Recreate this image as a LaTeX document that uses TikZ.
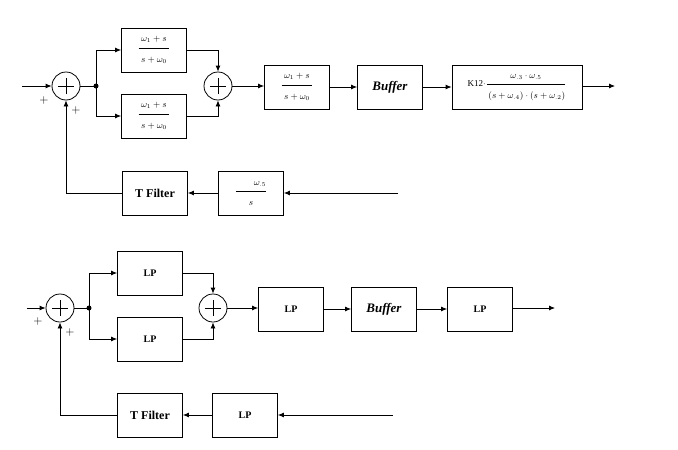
\documentclass[tikz,border=0pt]{standalone}
\usepackage{amsmath}
\usepackage{fontspec}
\setmainfont{Liberation Serif}
\usetikzlibrary{arrows.meta}
\newcommand{\gainfrac}[2]{\displaystyle\frac{\rule[-5pt]{0pt}{10pt}#1}{\rule{0pt}{13pt}#2}}
\tikzset{
  blk/.style={draw, thick, minimum width=65pt, minimum height=44pt, inner sep=1pt},
  sumnode/.style={draw, circle, minimum size=28pt, inner sep=0pt,
    path picture={\draw ([xshift=-8pt]path picture bounding box.center) -- ([xshift=8pt]path picture bounding box.center);
      \draw ([yshift=-8pt]path picture bounding box.center) -- ([yshift=8pt]path picture bounding box.center);}},
  arr/.style={-{Latex[length=6pt,width=5pt]}},
  sgn/.style={inner sep=0pt, font=\large}
}
\begin{document}
\begin{tikzpicture}[x=1pt, y=-1pt, line width=0.8pt]
	\useasboundingbox (0,0) rectangle (678,450);
	
	% Upper loop
	\coordinate (in1) at (22,86);
	\node[sumnode] (s1) at (66,86) {};
	\coordinate (j1) at (96,86);
	\node[blk] (bA) at (154,50) {\small$\gainfrac{\;\omega_1+s\;}{s+\omega_0}$};
	\node[blk] (bB) at (154,116) {\small$\gainfrac{\;\omega_1+s\;}{s+\omega_0}$};
	\node[sumnode] (s2) at (218,86) {};
	\node[blk] (b3) at (297,87) {\small$\gainfrac{\;\omega_1+s\;}{s+\omega_0}$};
	\node[blk] (buf1) at (390,87) {\fontsize{13}{15}\selectfont\textbf{\textit{Buffer}}};
	\node[blk, minimum width=130pt] (k12) at (517,87) {\small K12$\cdot\gainfrac{\omega_{.3}\cdot\omega_{.5}}{\left(s+\omega_{.4}\right)\cdot\left(s+\omega_{.2}\right)}$};
	\coordinate (out1) at (615,86);
	\node[blk] (tf1) at (155,193) {\fontsize{12}{14}\selectfont\textbf{T Filter}};
	\node[blk] (w5) at (251,193) {\small$\gainfrac{\qquad\omega_{.5}}{s}$};
	\coordinate (fin1) at (398,193);
	\node[sgn] (p1) at (44,100) {$+$};
	\node[sgn] (p2) at (76,110) {$+$};
	
	\draw[arr] (in1) -- (s1);
	\draw (s1) -- (j1);
	\fill (j1) circle (2.5pt);
	\draw[arr] (j1) |- (bA);
	\draw[arr] (j1) |- (bB);
	\draw[arr] (bA) -| (s2);
	\draw[arr] (bB) -| (s2);
	\draw[arr] (s2) -- (s2 -| b3.west);
	\draw[arr] (b3) -- (buf1);
	\draw[arr] (buf1) -- (k12);
	\draw[arr] (k12.east |- out1) -- (out1);
	\draw[arr] (fin1) -- (w5);
	\draw[arr] (w5) -- (tf1);
	\draw[arr] (tf1) -| (s1);
	
	% Lower loop
	\coordinate (in2) at (27,308);
	\node[sumnode] (s3) at (60,308) {};
	\coordinate (j2) at (89,308);
	\node[blk] (lpA) at (150,273) {\textbf{LP}};
	\node[blk] (lpB) at (150,339) {\textbf{LP}};
	\node[sumnode] (s4) at (213,308) {};
	\node[blk] (lp2) at (291,309) {\textbf{LP}};
	\node[blk] (buf2) at (384,309) {\fontsize{13}{15}\selectfont\textbf{\textit{Buffer}}};
	\node[blk] (lp3) at (480,309) {\textbf{LP}};
	\coordinate (out2) at (555,308);
	\node[blk] (tf2) at (150,415) {\fontsize{12}{14}\selectfont\textbf{T Filter}};
	\node[blk] (lp4) at (245,415) {\textbf{LP}};
	\coordinate (fin2) at (393,415);
	\node[sgn] (p3) at (38,321) {$+$};
	\node[sgn] (p4) at (70,332) {$+$};
	
	\draw[arr] (in2) -- (s3);
	\draw (s3) -- (j2);
	\fill (j2) circle (2.5pt);
	\draw[arr] (j2) |- (lpA);
	\draw[arr] (j2) |- (lpB);
	\draw[arr] (lpA) -| (s4);
	\draw[arr] (lpB) -| (s4);
	\draw[arr] (s4) -- (s4 -| lp2.west);
	\draw[arr] (lp2) -- (buf2);
	\draw[arr] (buf2) -- (lp3);
	\draw[arr] (lp3.east |- out2) -- (out2);
	\draw[arr] (fin2) -- (lp4);
	\draw[arr] (lp4) -- (tf2);
	\draw[arr] (tf2) -| (s3);
\end{tikzpicture}
\end{document}
